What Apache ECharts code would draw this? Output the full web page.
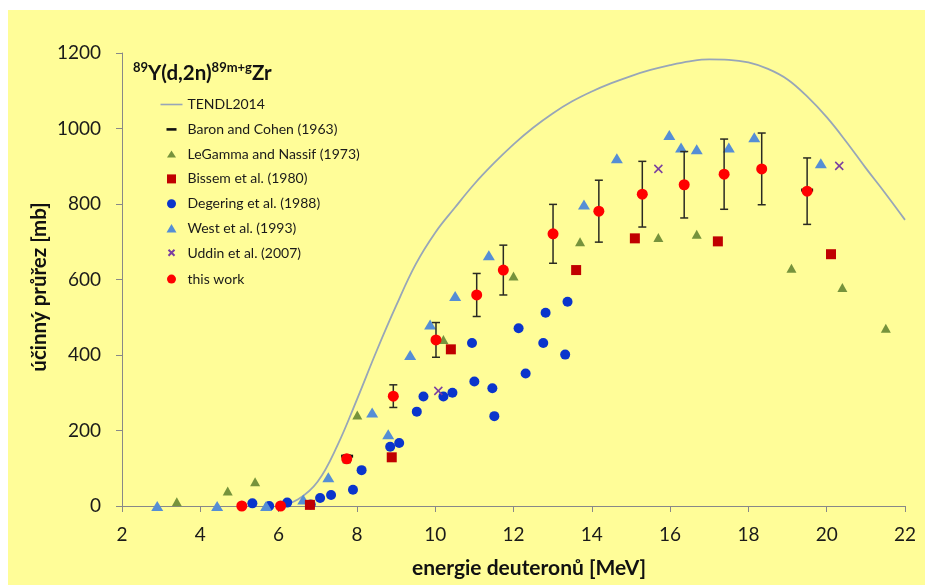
<!DOCTYPE html>
<html><head><meta charset="utf-8">
<script src="https://cdn.jsdelivr.net/npm/echarts@6/dist/echarts.min.js"></script>
<style>
html,body{margin:0;padding:0;background:#fff;width:925px;height:585px;overflow:hidden}
#c{position:absolute;left:8px;top:10px;width:917px;height:575px;background:#fffd98}
</style></head><body><div id="c"></div>
<script>
// ---- data ----
const tendlX = [6.0, 6.5, 7.0, 7.5, 8.0, 8.5, 9.0, 9.5, 10.0, 10.5, 11.0, 11.5, 12.0, 12.5, 13.0, 13.5, 14.0, 14.5, 15.0, 15.5, 16.0, 16.5, 17.0, 17.5, 18.0, 18.5, 19.0, 19.5, 20.0, 20.5, 21.0, 21.5, 22.0];
const tendlY = [0, 18, 65, 160, 282, 410, 530, 640, 724, 790, 853, 908, 958, 1002, 1040, 1072, 1098, 1120, 1139, 1155, 1168, 1178, 1183, 1182, 1175, 1158, 1130, 1085, 1030, 965, 895, 828, 758];

const baronX = [7.75, 19.5];
const baronY = [132, 837];

const legammaX = [3.40, 4.70, 5.40, 8.01, 10.21, 12.0, 13.70, 15.70, 16.68, 19.10, 20.40, 21.51];
const legammaY = [11, 40, 64, 241, 441, 609, 700, 711, 720, 630, 579, 471];

const bissemX = [6.80, 8.89, 10.40, 13.60, 15.10, 17.22, 20.11];
const bissemY = [3, 129, 415, 625, 709, 701, 667];

const degeringX = [5.33, 5.76, 6.22, 6.82, 7.06, 7.34, 7.90, 8.12, 8.85, 9.08, 9.53, 9.70, 10.21, 10.44, 10.94, 11.00, 11.46, 11.51, 12.13, 12.31, 12.76, 12.82, 13.32, 13.38];
const degeringY = [7, 0, 9, 4, 21, 29, 43, 95, 157, 167, 250, 290, 290, 300, 432, 330, 312, 238, 471, 351, 432, 512, 401, 541];

const westX = [2.90, 4.43, 5.68, 6.63, 7.27, 8.39, 8.80, 9.36, 9.87, 10.51, 11.37, 13.80, 14.64, 15.98, 16.28, 16.68, 17.50, 18.15, 19.85];
const westY = [0, 0, 0, 17, 76, 248, 190, 400, 481, 556, 664, 799, 921, 983, 950, 945, 950, 977, 908];

const uddinX = [10.08, 15.70, 20.32];
const uddinY = [305, 893, 901];

const thisWorkX = [5.06, 6.05, 7.74, 8.93, 10.02, 11.06, 11.74, 13.01, 14.18, 15.29, 16.36, 17.38, 18.34, 19.50];
const thisWorkY = [0, 0, 125, 291, 440, 559, 625, 721, 781, 826, 851, 879, 893, 834];
const thisWorkErr = [0, 0, 10, 30, 46, 57, 66, 78, 82, 87, 88, 93, 95, 88];

const seriesNames = ['TENDL2014', 'Baron and Cohen (1963)', 'LeGamma and Nassif (1973)', 'Bissem et al. (1980)', 'Degering et al. (1988)', 'West et al. (1993)', 'Uddin et al. (2007)', 'this work'];

const xMin = 2, xMax = 22, xStep = 2;
const yMin = 0, yMax = 1200, yStep = 200;

// ---- build ----
const zip = (a, b) => a.map((v, i) => [v, b[i]]);
const errData = thisWorkX.map((x, i) => [x, thisWorkY[i] - thisWorkErr[i], thisWorkY[i] + thisWorkErr[i], thisWorkErr[i]]).filter(d => d[3] > 0);

const FONT = 'Lato, "Open Sans", sans-serif';
const axisColor = '#888888';
const crossPath = 'path://M0,0L8,8M8,0L0,8';

const chart = echarts.init(document.getElementById('c'), null, {renderer: 'canvas'});
chart.setOption({
  animation: false,
  backgroundColor: 'transparent',
  grid: {left: 114, right: 20, top: 43, bottom: 79, containLabel: false},
  title: {
    left: 125, top: 51, padding: 0,
    text: '{sup|89}{b|Y(d,2n)}{sup|89m+g}{b|Zr}',
    textStyle: {
      rich: {
        b: {fontFamily: FONT, fontSize: 20.5, fontWeight: 'bold', color: '#111', lineHeight: 23, verticalAlign: 'bottom'},
        sup: {fontFamily: FONT, fontSize: 13, fontWeight: 'bold', color: '#111', lineHeight: 13, verticalAlign: 'top'}
      }
    }
  },
  legend: {
    orient: 'vertical', left: 150, top: 87.5, padding: 0,
    itemWidth: 22, itemHeight: 10, itemGap: 10.8,
    selectedMode: false,
    textStyle: {fontFamily: FONT, fontSize: 14, color: '#1a1a1a', lineHeight: 14},
    data: [
      {name: seriesNames[0], icon: 'path://M0,0M22,10M0,4.2h22v1.6h-22z', itemStyle: {color: '#98a6b8'}},
      {name: seriesNames[1], icon: 'path://M0,0M22,10M6,3.8h10v2.6h-10z'},
      {name: seriesNames[2], icon: 'path://M0,0M22,10M6.5,8.5L11,1.5L15.5,8.5z'},
      {name: seriesNames[3], icon: 'path://M0,0M22,10M6.5,0.5h9v9h-9z'},
      {name: seriesNames[4], icon: 'path://M0,0M22,10M6.5,5a4.5,4.5,0,1,0,9,0a4.5,4.5,0,1,0,-9,0z'},
      {name: seriesNames[5], icon: 'path://M0,0M22,10M6,9L11,0.5L16,9z'},
      {name: seriesNames[6], icon: 'path://M-8,-1M14,9M0,0L6,6M6,0L0,6'},
      {name: seriesNames[7], icon: 'path://M0,0M22,10M6.5,5a4.5,4.5,0,1,0,9,0a4.5,4.5,0,1,0,-9,0z'}
    ]
  },
  xAxis: {
    type: 'value', min: xMin, max: xMax, interval: xStep,
    axisLine: {lineStyle: {color: axisColor, width: 1}},
    axisTick: {show: true, length: 6, lineStyle: {color: axisColor}},
    splitLine: {show: false},
    axisLabel: {fontFamily: FONT, fontSize: 19, color: '#1a1a1a', margin: 19, formatter: v => String(v)}
  },
  yAxis: {
    type: 'value', min: yMin, max: yMax, interval: yStep,
    axisLine: {show: true, lineStyle: {color: axisColor, width: 1}},
    axisTick: {show: true, length: 6, lineStyle: {color: axisColor}},
    splitLine: {show: false},
    axisLabel: {fontFamily: FONT, fontSize: 19, color: '#1a1a1a', margin: 21, formatter: v => String(v)}
  },
  graphic: [
    {type: 'text', x: 521, y: 558, style: {text: 'energie deuteronů [MeV]', font: 'bold 21px ' + FONT, fill: '#111', align: 'center', verticalAlign: 'middle'}},
    {type: 'text', x: 31, y: 277, rotation: Math.PI / 2, style: {text: 'účinný průřez [mb]', font: 'bold 20.5px ' + FONT, fill: '#111', align: 'center', verticalAlign: 'middle'}}
  ],
  series: [
    {name: seriesNames[0], type: 'line', data: zip(tendlX, tendlY), smooth: 0.4, symbol: 'none',
     lineStyle: {color: '#98a6b8', width: 1.8}, itemStyle: {color: '#98a6b8'}, z: 1},
    {name: seriesNames[4], type: 'scatter', data: zip(degeringX, degeringY), symbol: 'circle', symbolSize: 10,
     itemStyle: {color: '#0a35cc', opacity: 1}, z: 2},
    {name: seriesNames[2], type: 'scatter', data: zip(legammaX, legammaY), symbol: 'triangle', symbolSize: [10, 9],
     itemStyle: {color: '#76933c', opacity: 1}, z: 3},
    {name: seriesNames[5], type: 'scatter', data: zip(westX, westY), symbol: 'triangle', symbolSize: [12, 10],
     itemStyle: {color: '#558ed5', opacity: 1}, z: 3},
    {name: seriesNames[3], type: 'scatter', data: zip(bissemX, bissemY), symbol: 'rect', symbolSize: 10,
     itemStyle: {color: '#c00000', opacity: 1}, z: 3},
    {name: seriesNames[6], type: 'scatter', data: zip(uddinX, uddinY), symbol: crossPath, symbolSize: 8,
     itemStyle: {color: 'none', borderColor: '#7a3fa0', borderWidth: 1.5, opacity: 1}, z: 3},
    {name: seriesNames[1], type: 'scatter', data: zip(baronX, baronY), symbol: 'rect', symbolSize: [12, 3],
     itemStyle: {color: '#111', opacity: 1}, z: 4},
    {name: 'err', type: 'custom', data: errData, z: 5,
     renderItem: function (params, api) {
       const x = api.value(0);
       const p1 = api.coord([x, api.value(1)]);
       const p2 = api.coord([x, api.value(2)]);
       const w = 4;
       const st = {stroke: '#2a2a22', lineWidth: 1.5};
       return {type: 'group', children: [
         {type: 'line', shape: {x1: p1[0], y1: p1[1], x2: p2[0], y2: p2[1]}, style: st},
         {type: 'line', shape: {x1: p1[0] - w, y1: p1[1], x2: p1[0] + w, y2: p1[1]}, style: st},
         {type: 'line', shape: {x1: p2[0] - w, y1: p2[1], x2: p2[0] + w, y2: p2[1]}, style: st}
       ]};
     }},
    {name: seriesNames[7], type: 'scatter', data: zip(thisWorkX, thisWorkY), symbol: 'circle', symbolSize: 11,
     itemStyle: {color: '#ff0000', opacity: 1}, z: 6}
  ]
});
</script></body></html>
